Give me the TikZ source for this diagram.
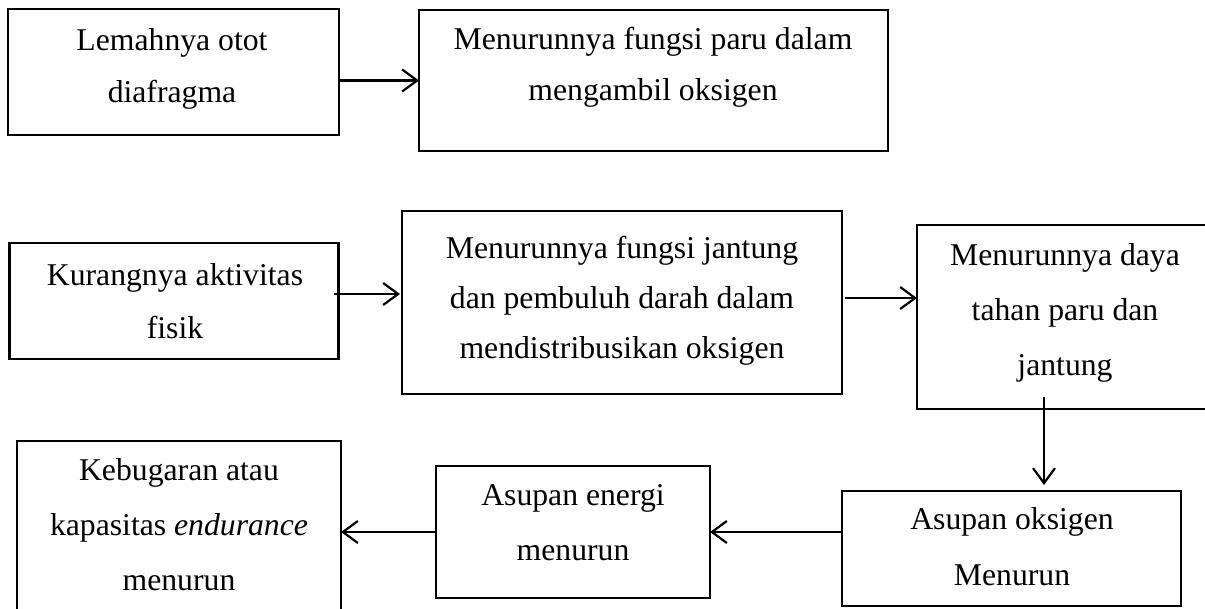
\documentclass[tikz,border=0pt]{standalone}
\usepackage{fontspec}
\setmainfont{Liberation Serif}
\usetikzlibrary{arrows.meta,calc}
\newcommand{\lnstrut}{\rule{0pt}{24pt}}
\begin{document}
\begin{tikzpicture}[x=1pt,y=-1pt,
  box/.style={draw, line width=2.4pt, inner sep=0pt, outer sep=0pt},
  txt/.style={font=\fontsize{31.7pt}{#1pt}\selectfont, align=center, inner sep=0pt, anchor=north},
  arr/.style={line width=2.2pt, -{Straight Barb[length=15pt,width=22pt,line width=2.2pt]}}]
\useasboundingbox (0,0) rectangle (1205,608);
\clip (0,0) rectangle (1205,608);
% boxes
\node[box, minimum width=331pt, minimum height=126pt] (A) at (173.5,72) {};
\node[box, minimum width=469pt, minimum height=141pt] (B) at (653.5,80.5) {};
\node[box, minimum width=329pt, minimum height=116pt] (C) at (174,301) {};
\node[box, minimum width=440pt, minimum height=183pt] (D) at (622,302.5) {};
\node[box, minimum width=313pt, minimum height=184pt] (E) at (1073.5,317) {};
\node[box, minimum width=339pt, minimum height=115pt] (F) at (1011.5,548.5) {};
\node[box, minimum width=274pt, minimum height=132pt] (G) at (573,532) {};
\node[box, minimum width=324pt, minimum height=189pt] (H) at (179,535.5) {};
% texts
\node[txt=52] (At) at (172,26) {\lnstrut Lemahnya otot\\diafragma};
\node[txt=51] (Bt) at (653,25) {\lnstrut Menurunnya fungsi paru dalam\\mengambil oksigen};
\node[txt=53] (Ct) at (175,261) {\lnstrut Kurangnya aktivitas\\fisik};
\node[txt=50] (Dt) at (622,234) {\lnstrut Menurunnya fungsi jantung\\dan pembuluh darah dalam\\mendistribusikan oksigen};
\node[txt=55] (Et) at (1065,241) {\lnstrut Menurunnya daya\\tahan paru dan\\jantung};
\node[txt=56] (Ft) at (1012,505) {\lnstrut Asupan oksigen\\Menurun};
\node[txt=55] (Gt) at (573,481) {\lnstrut Asupan energi\\menurun};
\node[txt=55] (Ht) at (179,456) {\lnstrut Kebugaran atau\\kapasitas \textit{endurance}\\menurun};
% connectors
\draw[arr] (A.east |- B.west) -- (B.west);
\draw[arr, shorten >=2pt] ([xshift=-5pt,yshift=7pt]C.east) -- ([yshift=8.5pt]D.west);
\draw[arr] ([xshift=3pt,yshift=4.5pt]D.east) -- ([yshift=4.5pt]D.east -| E.west);
\draw[arr, shorten >=6pt] ([xshift=-29.5pt,yshift=12pt]E.south) -- ([xshift=32.5pt]F.north);
\draw[arr] (F.west |- G.east) -- (G.east);
\draw[arr] (G.west) -- (G.west -| H.east);
\end{tikzpicture}
\end{document}
